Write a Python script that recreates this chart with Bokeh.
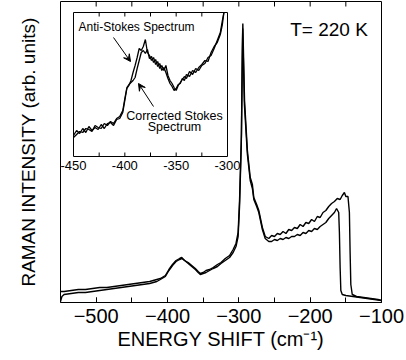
from bokeh.plotting import figure
from bokeh.models import Range1d, LinearAxis, SingleIntervalTicker, FixedTicker, Arrow, VeeHead
from bokeh.core.properties import value
from bokeh.embed import file_html
from bokeh.resources import INLINE

FONT = "Liberation Sans"

# ---------------- main spectrum data (arb. units) ----------------
main_x_a = [-550, -545, -535, -525, -515, -505, -495, -485, -475, -465, -455, -445, -435, -425, -415,
            -410, -403, -398, -393, -388, -383, -380, -376, -371, -366, -361, -357, -354, -350, -346,
            -341, -336, -330, -325, -319, -313, -308, -304, -301, -299, -296.3, -295, -294.4, -292,
            -288, -284, -281, -279, -275, -272, -267, -263,
            -258, -254, -250, -246, -242, -238, -234, -230, -226, -222, -218, -214, -210, -206, -202,
            -198, -194, -190, -186, -182, -178, -174, -170, -166, -162, -158, -155, -152, -150, -147,
            -145, -144, -143, -141, -135, -125, -115, -105, -100]
main_y_a = [11, 11, 12, 13, 13, 14, 15, 15, 16, 17, 18, 19, 20, 21, 23,
            24, 27, 33, 38, 42, 44, 45, 42, 40, 37, 34, 31, 29, 30, 32,
            33, 35, 38, 40, 44, 47, 53, 59, 70, 102, 169, 252, 279, 202,
            152, 125, 118, 105, 98, 92, 75, 66,
            64, 67, 66, 69, 68, 71, 69, 73, 72, 75, 74, 78, 76, 80, 79,
            83, 81, 86, 85, 90, 92, 96, 99, 101, 104, 103, 107, 110, 106, 106,
            90, 50, 18, 8, 6, 5, 4, 3, 2]

main_x_b = [-550, -548, -545, -535, -525, -515, -505, -495, -485, -475, -465, -455, -445, -435, -425,
            -415, -410, -403, -398, -393, -388, -383, -380, -376, -371, -366, -361, -357, -354, -350,
            -346, -341, -336, -330, -325, -319, -313, -308, -304, -301, -299, -296.5, -295.2, -294.6,
            -292.2, -288, -284, -281, -279, -275, -272, -267, -263,
            -258, -254, -250, -246, -242, -238, -234, -230, -226, -222, -218, -214, -210, -206, -202,
            -198, -194, -190, -186, -182, -178, -174, -170, -166, -163, -160, -159, -158, -157, -155,
            -150, -140, -130, -120, -110, -100]
main_y_b = [1, 6, 8, 9, 10, 10, 11, 12, 13, 14, 15, 16, 17, 18, 19,
            21, 23, 26, 32, 37, 41, 43, 44, 42, 39, 36, 33, 30, 28, 29,
            30, 32, 34, 36, 39, 42, 45, 50, 56, 66, 96, 160, 245, 274,
            198, 148, 122, 114, 103, 96, 90, 73, 64,
            61, 61, 63, 62, 64, 63, 65, 64, 66, 66, 68, 67, 70, 69, 72,
            71, 74, 73, 76, 78, 80, 84, 87, 90, 94, 90, 70, 35, 12, 8,
            7, 6, 5, 4, 3, 2]

main_ticks = [-500, -450, -400, -350, -300, -250, -200, -150]

# ---------------- inset data ----------------
inset_x = [-450, -447, -444, -441, -438, -435, -432, -429, -426, -423, -420, -417, -414, -411, -408,
           -405, -402, -400, -398, -396, -394, -392, -390, -388, -386, -384, -382, -380, -378, -376,
           -374, -372, -370, -368, -366, -364, -362, -360, -358, -356, -354, -352, -350, -348, -346,
           -344, -342, -340, -337, -334, -331, -328, -325, -322, -319, -316, -313, -310, -307, -305,
           -303.5]
inset_a = [21, 26, 23, 28, 24, 30, 26, 29, 27, 32, 28, 33, 34, 31, 37,
           38, 44, 56, 68, 71, 76, 84, 91, 99, 108, 106, 110, 117, 104, 101,
           96, 99, 92, 95, 88, 91, 86, 91, 81, 76, 73, 69, 66, 71, 74,
           77, 80, 78, 85, 82, 88, 86, 91, 93, 99, 101, 108, 116, 124, 136,
           144]
inset_b = [19, 22, 25, 24, 28, 27, 25, 31, 29, 28, 33, 31, 35, 33, 38,
           40, 46, 58, 69, 72, 74, 76, 79, 88, 96, 104, 106, 103, 107, 98,
           100, 94, 97, 90, 93, 86, 89, 84, 78, 73, 70, 66, 68, 72, 73,
           78, 76, 82, 80, 86, 84, 89, 92, 96, 95, 104, 110, 114, 122, 132,
           144]

inset_ticks = [-450, -425, -400, -375, -350, -325, -300]
inset_tick_labels = ["-450", "-400", "-350", "-300"]
inset_label_pos = [-450, -400, -350, -300]

# ---------------- layout constants ----------------
W, H = 406, 360
FL, FR, FT, FB = 60, 381, 1, 302          # main frame pixel box
IL, IR, IT, IB = 73, 227, 12, 156         # inset box pixel box
X0, X1 = -550, -100
Y0, Y1 = 0, FB - FT
IX0, IX1 = -450, -300
IY0, IY1 = 0, IB - IT

p = figure(width=W, height=H, output_backend="svg", toolbar_location=None,
           x_range=Range1d(X0, X1), y_range=Range1d(Y0, Y1),
           min_border_left=FL, min_border_right=W - FR, min_border_top=FT,
           min_border_bottom=H - FB, x_axis_location=None, y_axis_location=None)
p.grid.visible = False
p.outline_line_color = "black"
p.outline_line_width = 1
p.background_fill_color = "white"
p.border_fill_color = "white"

# inset coordinate system mapped over the whole frame
ups_x = (IX1 - IX0) / (IR - IL)
ups_y = (IY1 - IY0) / (IB - IT)
p.extra_x_ranges = {"inset": Range1d(IX0 - (IL - FL) * ups_x, IX1 + (FR - IR) * ups_x)}
p.extra_y_ranges = {"inset": Range1d(IY0 - (FB - IB) * ups_y, IY1 + (IT - FT) * ups_y)}

# axes
xb = LinearAxis(ticker=SingleIntervalTicker(interval=100, num_minor_ticks=2),
                axis_label="ENERGY SHIFT (cm\u207b\u00b9)")
xb.axis_line_color = None
xb.major_tick_in = 5
xb.major_tick_out = 0
xb.minor_tick_in = 5
xb.minor_tick_out = 0
xb.major_label_standoff = 6
xb.major_label_text_font = FONT
xb.major_label_text_font_size = "20px"
xb.major_label_text_color = "black"
xb.axis_label_text_font = FONT
xb.axis_label_text_font_size = "20px"
xb.axis_label_text_font_style = "normal"
xb.axis_label_text_color = "black"
xb.axis_label_standoff = 2
p.add_layout(xb, "below")

yl = LinearAxis(ticker=FixedTicker(ticks=[]), axis_label="RAMAN INTENSITY (arb. units)")
yl.axis_line_color = None
yl.major_tick_in = 0
yl.major_tick_out = 0
yl.minor_tick_in = 0
yl.minor_tick_out = 0
yl.major_label_standoff = 0
yl.axis_label_text_font = FONT
yl.axis_label_text_font_size = "19px"
yl.axis_label_text_font_style = "normal"
yl.axis_label_text_color = "black"
yl.axis_label_standoff = 22
p.add_layout(yl, "left")

# top ticks of the main frame
p.segment(x0=main_ticks, x1=main_ticks, y0=[Y1] * len(main_ticks), y1=[Y1 - 5] * len(main_ticks),
          line_color="black", line_width=1)

# main curves
p.line(main_x_a, main_y_a, line_color="black", line_width=1.4)
p.line(main_x_b, main_y_b, line_color="black", line_width=1.4)

p.text(x=[-228], y=[273], text=["T= 220 K"], text_font=value(FONT), text_font_size="19px",
       text_align="left", text_baseline="middle", text_color="black")

# inset box
p.quad(left=[IX0], right=[IX1], bottom=[IY0], top=[IY1], fill_color="white", line_color="black",
       line_width=1, x_range_name="inset", y_range_name="inset")
inner = inset_ticks[1:-1]
tl = 4 * ups_y
p.segment(x0=inner, x1=inner, y0=[IY0] * len(inner), y1=[IY0 + tl] * len(inner),
          line_color="black", line_width=1, x_range_name="inset", y_range_name="inset")
p.segment(x0=inner, x1=inner, y0=[IY1] * len(inner), y1=[IY1 - tl] * len(inner),
          line_color="black", line_width=1, x_range_name="inset", y_range_name="inset")
p.text(x=inset_label_pos, y=[IY0 - 9 * ups_y] * len(inset_label_pos), text=inset_tick_labels,
       text_font=value(FONT), text_font_size="13px", text_align="center", text_baseline="middle",
       text_color="black", x_range_name="inset", y_range_name="inset")

p.line(inset_x, inset_a, line_color="black", line_width=1.3, x_range_name="inset", y_range_name="inset")
p.line(inset_x, inset_b, line_color="black", line_width=1.3, x_range_name="inset", y_range_name="inset")

def ix(px):
    return IX0 + (px - IL) * ups_x

def iy(py):
    return IY0 + (IB - py) * ups_y

p.text(x=[ix(78)], y=[iy(26)], text=["Anti-Stokes Spectrum"], text_font=value(FONT),
       text_font_size="12px", text_align="left", text_baseline="middle", text_color="black",
       x_range_name="inset", y_range_name="inset")
p.text(x=[ix(174), ix(174)], y=[iy(115), iy(126)], text=["Corrected Stokes", "Spectrum"],
       text_font=value(FONT), text_font_size="12.5px", text_align="center", text_baseline="middle",
       text_color="black", x_range_name="inset", y_range_name="inset")

p.add_layout(Arrow(x_start=ix(113), y_start=iy(37), x_end=ix(130), y_end=iy(61),
                   line_color="black", line_width=1,
                   end=VeeHead(size=7, fill_color="black", line_color="black"),
                   x_range_name="inset", y_range_name="inset"))
p.add_layout(Arrow(x_start=ix(153), y_start=iy(106), x_end=ix(138), y_end=iy(83),
                   line_color="black", line_width=1,
                   end=VeeHead(size=7, fill_color="black", line_color="black"),
                   x_range_name="inset", y_range_name="inset"))

open("out.html", "w").write(file_html(p, INLINE))
